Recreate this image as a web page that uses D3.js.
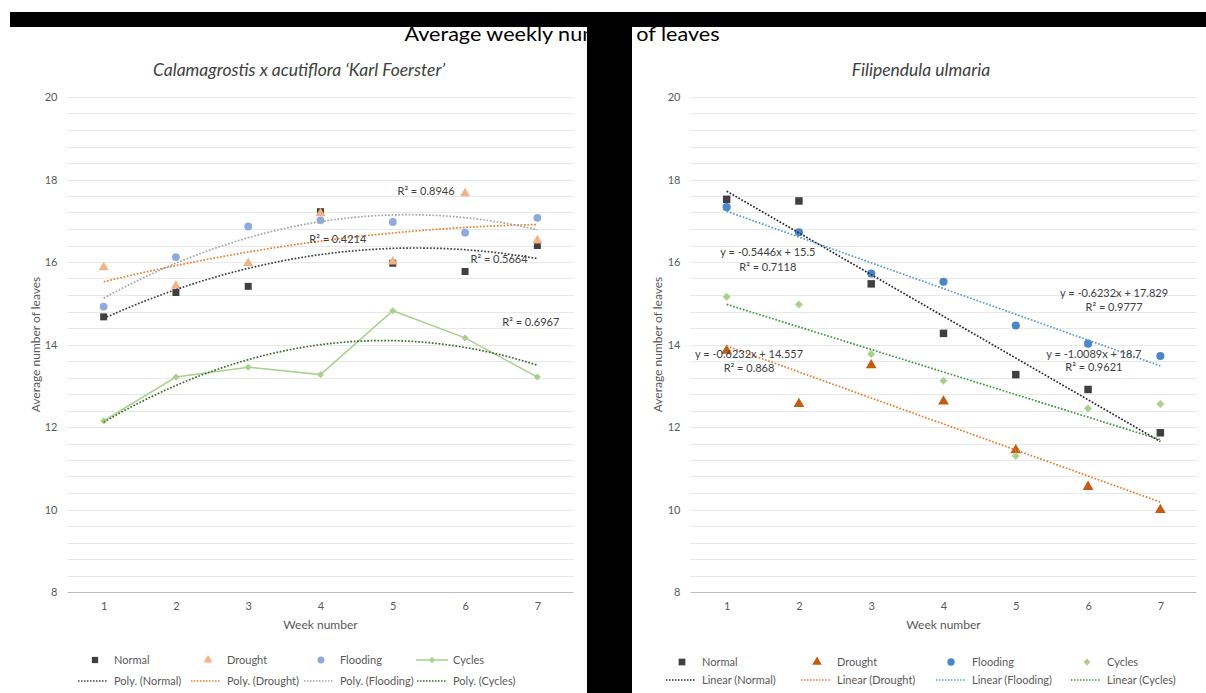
<!DOCTYPE html>
<html><head><meta charset="utf-8">
<script src="https://cdn.jsdelivr.net/npm/d3@7"></script>
<style>
body{margin:0;background:#fff}
svg{display:block}
text{font-family:Lato,"Open Sans",sans-serif}
</style>
</head><body>
<svg id="c" width="1206" height="693"></svg>
<script>
// ---------------- data ----------------
const weeks = [1, 2, 3, 4, 5, 6, 7];
const yTickValues = [8, 10, 12, 14, 16, 18, 20];
const seriesNames = ["Normal", "Drought", "Flooding", "Cycles"];

const mainTitle = "Average weekly number of leaves";
const calTitle = "Calamagrostis x acutiflora \u2018Karl Foerster\u2019";
const filTitle = "Filipendula ulmaria";

// Calamagrostis x acutiflora 'Karl Foerster'
const calNormal   = [14.67, 15.26, 15.41, 17.22, 15.97, 15.77, 16.40];
const calDrought  = [15.87, 15.42, 15.97, 17.18, 16.01, 17.66, 16.52];
const calFlooding = [14.92, 16.12, 16.86, 17.01, 16.97, 16.71, 17.07];
const calCycles   = [12.15, 13.21, 13.45, 13.27, 14.82, 14.16, 13.21];
const calLabels = [
  {text: "R\u00B2 = 0.8946", week: 5.46, value: 17.72},
  {text: "R\u00B2 = 0.4214", week: 4.24, value: 16.56},
  {text: "R\u00B2 = 0.5664", week: 6.47, value: 16.07},
  {text: "R\u00B2 = 0.6967", week: 6.91, value: 14.55}
];

// Filipendula ulmaria
const filNormal   = [17.52, 17.48, 15.47, 14.27, 13.27, 12.91, 11.86];
const filDrought  = [13.85, 12.56, 13.50, 12.62, 11.44, 10.55, 9.99];
const filFlooding = [17.33, 16.72, 15.72, 15.52, 14.46, 14.02, 13.72];
const filCycles   = [15.16, 14.97, 13.77, 13.12, 11.30, 12.45, 12.56];
const filLabels = [
  {text: "y = -0.5446x + 15.5",   week: 1.57, value: 16.24},
  {text: "R\u00B2 = 0.7118",      week: 1.57, value: 15.88},
  {text: "y = -0.6232x + 17.829", week: 6.36, value: 15.25},
  {text: "R\u00B2 = 0.9777",      week: 6.36, value: 14.91},
  {text: "y = -0.6232x + 14.557", week: 1.31, value: 13.77},
  {text: "R\u00B2 = 0.868",       week: 1.31, value: 13.43},
  {text: "y = -1.0089x + 18.7",   week: 6.08, value: 13.77},
  {text: "R\u00B2 = 0.9621",      week: 6.08, value: 13.45}
];

// ---------------- helpers ----------------
function polyFit(xs, ys, deg) {
  const n = deg + 1;
  const A = [];
  for (let i = 0; i < n; i++) {
    const row = [];
    for (let j = 0; j < n; j++) row.push(d3.sum(xs, x => Math.pow(x, i + j)));
    row.push(d3.sum(xs.map((x, k) => ys[k] * Math.pow(x, i))));
    A.push(row);
  }
  for (let c = 0; c < n; c++) {
    let p = c;
    for (let r = c + 1; r < n; r++) if (Math.abs(A[r][c]) > Math.abs(A[p][c])) p = r;
    const tmp = A[c]; A[c] = A[p]; A[p] = tmp;
    for (let r = 0; r < n; r++) {
      if (r === c) continue;
      const f = A[r][c] / A[c][c];
      for (let k = c; k <= n; k++) A[r][k] -= f * A[c][k];
    }
  }
  return A.map((row, i) => row[n] / row[i]);
}
const evalPoly = (coef, x) => coef.reduce((s, c, i) => s + c * Math.pow(x, i), 0);

const svg = d3.select("#c");
const GRID = "#E8E8E8", AXIS = "#BFBFBF", TXT = "#595959";

const symbolFor = {
  square: d3.symbolSquare, triangle: d3.symbolTriangle,
  circle: d3.symbolCircle, diamond: d3.symbolSquare
};
function marker(g, type, size, color, x, y) {
  const path = d3.symbol().type(symbolFor[type]).size(size)();
  g.append("path").attr("d", path).attr("fill", color)
    .attr("transform", `translate(${x},${y})` + (type === "diamond" ? " rotate(45)" : ""));
}

function drawPanel(cfg) {
  const g = svg.append("g");
  const x = d3.scaleLinear().domain([0.5, 7.5]).range([cfg.left, cfg.right]);
  const y = d3.scaleLinear().domain([8, 20]).range([cfg.bottom, cfg.top]);

  // minor gridlines (every 0.4) and major
  const gridVals = d3.range(8.4, 20.01, 0.4);
  g.append("g").selectAll("line").data(gridVals).join("line")
    .attr("x1", cfg.left).attr("x2", cfg.right)
    .attr("y1", d => Math.round(y(d)) + 0.5).attr("y2", d => Math.round(y(d)) + 0.5)
    .attr("stroke", GRID).attr("stroke-width", 1);
  g.append("line").attr("x1", cfg.left).attr("x2", cfg.right)
    .attr("y1", Math.round(y(8)) + 0.5).attr("y2", Math.round(y(8)) + 0.5)
    .attr("stroke", AXIS).attr("stroke-width", 1);

  // y axis labels
  const yAxis = d3.axisLeft(y).tickValues(yTickValues).tickSize(0).tickPadding(10).tickFormat(d3.format("d"));
  const ya = g.append("g").attr("transform", `translate(${cfg.left},0)`).call(yAxis);
  ya.select(".domain").remove();
  ya.selectAll("text").attr("fill", TXT).style("font-size", "11px").style("font-family", "Lato, sans-serif");

  // x axis labels
  const xAxis = d3.axisBottom(x).tickValues(weeks).tickSize(0).tickPadding(10).tickFormat(d3.format("d"));
  const xa = g.append("g").attr("transform", `translate(0,${cfg.bottom})`).call(xAxis);
  xa.select(".domain").remove();
  xa.selectAll("text").attr("fill", TXT).style("font-size", "11px").style("font-family", "Lato, sans-serif");

  // axis titles
  g.append("text").attr("x", (cfg.left + cfg.right) / 2).attr("y", cfg.bottom + 37)
    .attr("text-anchor", "middle").attr("fill", TXT).style("font-size", "12px").text("Week number");
  g.append("text").attr("transform", `translate(${cfg.yTitleX},${(cfg.top + cfg.bottom) / 2}) rotate(-90)`)
    .attr("text-anchor", "middle").attr("fill", TXT).style("font-size", "12px").text("Average number of leaves");

  // subtitle
  g.append("text").attr("x", cfg.subX).attr("y", 76).attr("text-anchor", "middle")
    .attr("fill", "#404040").style("font-size", "17.5px").style("font-style", "italic").text(cfg.subtitle);

  // series
  cfg.series.forEach(s => {
    if (s.line) {
      g.append("path").datum(s.values)
        .attr("d", d3.line().x((d, i) => x(weeks[i])).y(d => y(d)))
        .attr("fill", "none").attr("stroke", s.color).attr("stroke-width", 1.5);
    }
    s.values.forEach((v, i) => marker(g, s.shape, s.size, s.color, x(weeks[i]), y(v)));
  });

  // trendlines
  cfg.series.forEach(s => {
    const coef = polyFit(weeks, s.values, cfg.degree);
    const xs = d3.range(1, 7.001, 0.05);
    g.append("path").datum(xs)
      .attr("d", d3.line().x(d => x(d)).y(d => y(evalPoly(coef, d))))
      .attr("fill", "none").attr("stroke", s.trend).attr("stroke-width", 1.7)
      .attr("stroke-dasharray", "1.7,1.7");
  });

  // labels
  cfg.labels.forEach(l => {
    g.append("text").attr("x", x(l.week)).attr("y", y(l.value) + 4)
      .attr("text-anchor", "middle").attr("fill", "#404040").style("font-size", "11px").text(l.text);
  });

  // legend
  const lg = g.append("g");
  cfg.series.forEach((s, i) => {
    const lx = cfg.legendX[i];
    if (s.line) {
      lg.append("line").attr("x1", lx - 16).attr("x2", lx + 16).attr("y1", cfg.legendY1).attr("y2", cfg.legendY1)
        .attr("stroke", s.color).attr("stroke-width", 1.5);
    }
    marker(lg, s.shape, s.size * 0.8, s.color, lx, cfg.legendY1);
    lg.append("text").attr("x", cfg.legendTextX[i]).attr("y", cfg.legendY1 + 4)
      .attr("fill", TXT).style("font-size", "11px").text(s.name);
    lg.append("line").attr("x1", cfg.legendTextX[i] - 36).attr("x2", cfg.legendTextX[i] - 6)
      .attr("y1", cfg.legendY2).attr("y2", cfg.legendY2)
      .attr("stroke", s.trend).attr("stroke-width", 1.5).attr("stroke-dasharray", "1.5,1.5");
    lg.append("text").attr("x", cfg.legendTextX[i]).attr("y", cfg.legendY2 + 4)
      .attr("fill", TXT).style("font-size", "11px").text(`${cfg.trendPrefix} (${s.name})`);
  });
}

drawPanel({
  left: 67.5, right: 573.5, top: 97, bottom: 592, yTitleX: 40, subX: 299,
  subtitle: calTitle, degree: 2, trendPrefix: "Poly.",
  labels: calLabels,
  legendY1: 660, legendY2: 681,
  legendX: [95, 208, 321, 432], legendTextX: [114, 227, 340, 453],
  series: [
    {name: seriesNames[0], values: calNormal,   shape: "square",   size: 49, color: "#404040", trend: "#404040"},
    {name: seriesNames[1], values: calDrought,  shape: "triangle", size: 42, color: "#F4B183", trend: "#ED7D31"},
    {name: seriesNames[2], values: calFlooding, shape: "circle",   size: 48, color: "#8FAADC", trend: "#A5A5A5"},
    {name: seriesNames[3], values: calCycles,   shape: "diamond",  size: 25, color: "#A9D18E", trend: "#3B6E2A", line: true}
  ]
});

drawPanel({
  left: 690.5, right: 1196.5, top: 97, bottom: 592, yTitleX: 662, subX: 921,
  subtitle: filTitle, degree: 1, trendPrefix: "Linear",
  labels: filLabels,
  legendY1: 662, legendY2: 680,
  legendX: [682, 817, 951, 1087], legendTextX: [702, 837, 972, 1107],
  series: [
    {name: seriesNames[0], values: filNormal,   shape: "square",   size: 56, color: "#404040", trend: "#262626"},
    {name: seriesNames[1], values: filDrought,  shape: "triangle", size: 50, color: "#C55A11", trend: "#ED7D31"},
    {name: seriesNames[2], values: filFlooding, shape: "circle",   size: 52, color: "#4A86C8", trend: "#5B9BD5"},
    {name: seriesNames[3], values: filCycles,   shape: "diamond",  size: 32, color: "#A9D18E", trend: "#3A9A3A"}
  ]
});

// main title and black bars
svg.append("text").attr("x", 562).attr("y", 41).attr("text-anchor", "middle")
  .attr("fill", "#000").style("font-size", "20px")
  .attr("textLength", 315).attr("lengthAdjust", "spacingAndGlyphs").text(mainTitle);
svg.append("rect").attr("x", 10).attr("y", 12).attr("width", 1196).attr("height", 15).attr("fill", "#000");
svg.append("rect").attr("x", 587).attr("y", 12).attr("width", 45).attr("height", 681).attr("fill", "#000");
</script>
</body></html>
